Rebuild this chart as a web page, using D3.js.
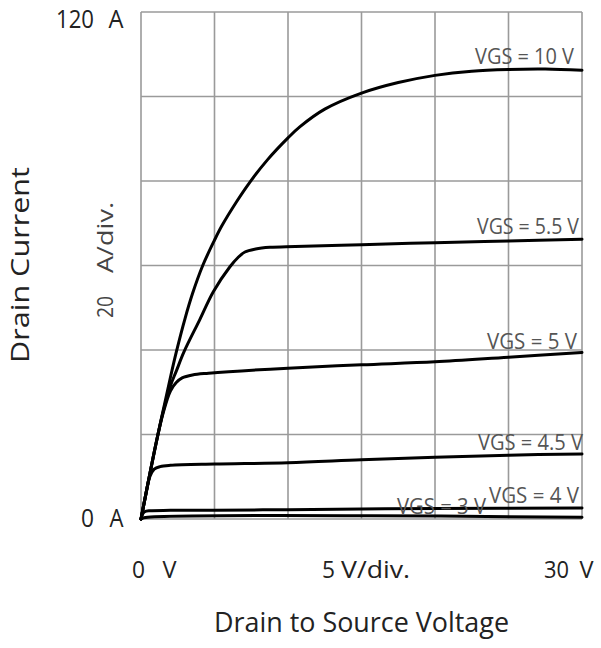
<!DOCTYPE html>
<html>
<head>
<meta charset="utf-8">
<script src="https://cdn.jsdelivr.net/npm/d3@7"></script>
<style>
  html, body { margin: 0; padding: 0; background: #fff; }
  svg { display: block; }
  text { font-family: "Open Sans", "Noto Sans", sans-serif; }
</style>
</head>
<body>
<svg id="chart" width="601" height="648"></svg>
<script>
// ---- data ----
const seriesNames = ["VGS = 10 V", "VGS = 5.5 V", "VGS = 5 V", "VGS = 4.5 V", "VGS = 4 V", "VGS = 3 V"];
const vds10  = [0, 1, 2, 2.4, 3, 3.5, 4.2, 5, 5.5, 6.5, 7.4, 8.6, 10, 10.8, 12.5, 15, 17.5, 20, 22.5, 25, 27.5, 30];
const id10   = [0, 17.5, 33.5, 39.5, 47.5, 53.3, 60, 66, 69.4, 75.1, 79.7, 85, 90.2, 92.8, 97, 100.8, 103.3, 105, 106, 106.4, 106.5, 106.2];
const vds55  = [0, 1, 1.5, 2, 2.4, 2.93, 4, 4.92, 6.05, 6.6, 7.07, 7.8, 8.77, 10.5, 15, 20, 25, 30];
const id55   = [0, 17.5, 25.3, 31.5, 35, 39.6, 47.2, 53.8, 59.7, 61.9, 63.2, 63.9, 64.3, 64.5, 64.9, 65.4, 65.8, 66.2];
const vds5   = [0, 1, 1.5, 2, 2.4, 2.8, 3.5, 4.6, 10, 15, 20, 25, 30];
const id5    = [0, 17.5, 25, 30.3, 32.3, 33.4, 34.1, 34.5, 35.7, 36.5, 37.2, 38.3, 39.4];
const vds45  = [0, 0.3, 0.6, 0.9, 1.3, 2, 5, 10, 15, 20, 25, 30];
const id45   = [0, 5.3, 10, 11.8, 12.4, 12.7, 13, 13.3, 14, 14.6, 15.1, 15.4];
const vds4   = [0, 0.1, 0.25, 0.6, 2, 5, 10, 15, 20, 30];
const id4    = [0, 1.1, 1.7, 1.95, 2.05, 2.1, 2.2, 2.35, 2.5, 2.6];
const vds3   = [0, 0.2, 30];
const id3    = [0, 0.3, 0.4];

const yEndTicks = ["0", "120"];   // A
const yUnit = "A";
const yDivLabel = ["20", "A/div."];
const xEndTicks = ["0", "30"];    // V
const xUnit = "V";
const xDivLabel = ["5", "V/div."];
const xTitle = "Drain to Source Voltage";
const yTitle = "Drain Current";

// ---- layout ----
const svg = d3.select("#chart");
const x = d3.scaleLinear().domain([0, 30]).range([141, 582]);
const y = d3.scaleLinear().domain([0, 120]).range([519, 12]);

const gridColor = "#9a9a9a";
const g = svg.append("g");

// grid
g.selectAll("line.vx").data(d3.range(0, 31, 5)).join("line")
  .attr("x1", d => x(d)).attr("x2", d => x(d))
  .attr("y1", y(0)).attr("y2", y(120))
  .attr("stroke", gridColor).attr("stroke-width", 1.6);
g.selectAll("line.hy").data(d3.range(0, 121, 20)).join("line")
  .attr("x1", x(0)).attr("x2", x(30))
  .attr("y1", d => y(d)).attr("y2", d => y(d))
  .attr("stroke", gridColor).attr("stroke-width", 1.6);

// curves
const series = [
  { name: seriesNames[0], xs: vds10, ys: id10 },
  { name: seriesNames[1], xs: vds55, ys: id55 },
  { name: seriesNames[2], xs: vds5,  ys: id5 },
  { name: seriesNames[3], xs: vds45, ys: id45 },
  { name: seriesNames[4], xs: vds4,  ys: id4 },
  { name: seriesNames[5], xs: vds3,  ys: id3 }
];
const line = d3.line().x(d => x(d[0])).y(d => y(d[1])).curve(d3.curveCatmullRom.alpha(0.5));
g.selectAll("path.curve").data(series).join("path")
  .attr("d", s => line(s.xs.map((v, i) => [v, s.ys[i]])))
  .attr("fill", "none").attr("stroke", "#000").attr("stroke-width", 3)
  .attr("stroke-linejoin", "round").attr("stroke-linecap", "round");

// helper: text with fixed width
function txt(str, x0, base, size, width, color, rotate) {
  const t = svg.append("text")
    .attr("font-size", size)
    .attr("fill", color)
    .attr("textLength", width)
    .attr("lengthAdjust", "spacingAndGlyphs")
    .text(str);
  if (rotate) {
    t.attr("transform", `translate(${x0},${base}) rotate(-90)`);
  } else {
    t.attr("x", x0).attr("y", base);
  }
  return t;
}

// series labels (right end, above curve)
const labelStyle = [
  { right: 574, dy: -6, w: 99 },
  { right: 579, dy: -5, w: 102 },
  { right: 577, dy: -4, w: 90 },
  { right: 583, dy: -4, w: 105 },
  { right: 579, dy: -5, w: 90 },
  { right: 486, dy: -3, w: 89 }
];
series.forEach((s, i) => {
  const st = labelStyle[i];
  const lastY = y(s.ys[s.ys.length - 1]);
  txt(s.name, st.right - st.w, lastY + st.dy, 22, st.w, "#555");
});

// y end ticks
const tickColor = "#222";
txt(yEndTicks[1], x(0) - 85, y(120) + 16, 25, 38, tickColor);
txt(yUnit, x(0) - 32.5, y(120) + 16, 25, 15, tickColor);
txt(yEndTicks[0], x(0) - 60, y(0) + 8, 25, 13, tickColor);
txt(yUnit, x(0) - 31.5, y(0) + 8, 25, 14, tickColor);

// y per-div label (rotated)
txt(yDivLabel[0], 113, 318, 22, 22, "#444", true);
txt(yDivLabel[1], 113, 273, 22, 71, "#444", true);

// y title
txt(yTitle, 29, 363, 26, 196, tickColor, true);

// x end ticks
txt(xEndTicks[0], x(0) - 9, 578, 23, 13, tickColor);
txt(xUnit, x(0) + 21.5, 578, 23, 14, tickColor);
txt(xEndTicks[1], x(30) - 38, 578, 23, 25, tickColor);
txt(xUnit, x(30) - 2.5, 578, 23, 14, tickColor);

// x per-div label
txt(xDivLabel[0], 322, 578, 23, 13, tickColor);
txt(xDivLabel[1], 341, 578, 23, 69, tickColor);

// x title
txt(xTitle, 214, 632, 28, 295, tickColor);
</script>
</body>
</html>
